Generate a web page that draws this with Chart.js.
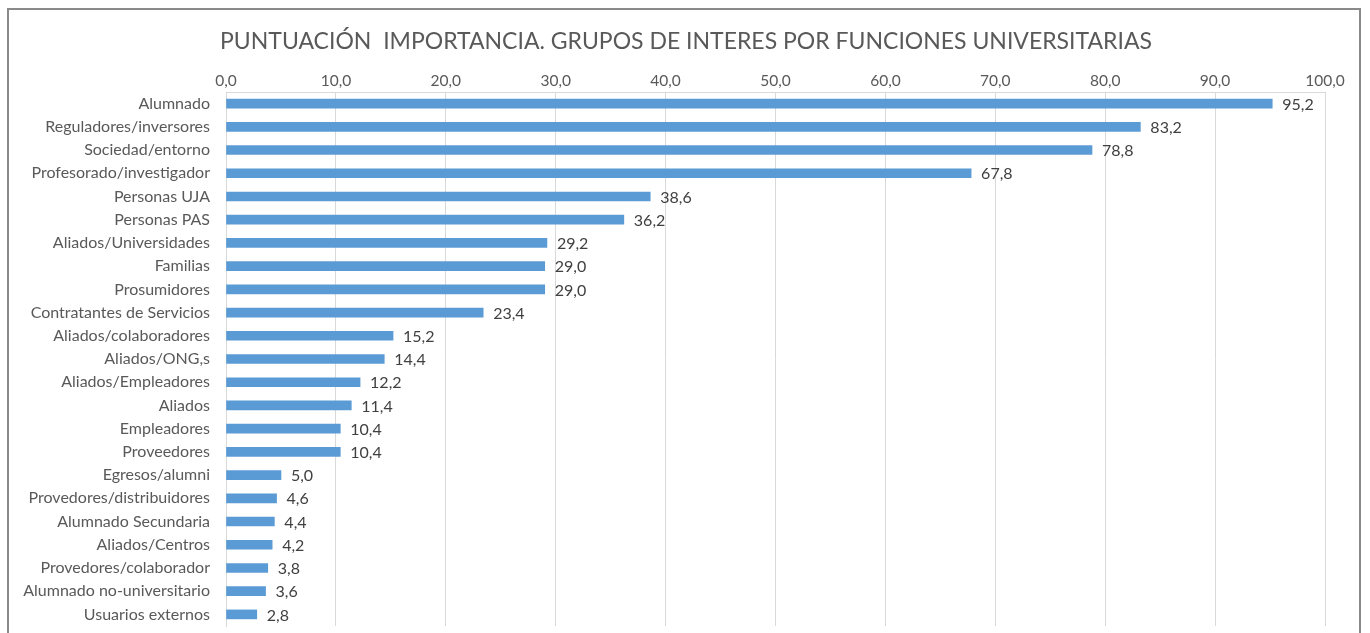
<!DOCTYPE html>
<html>
<head>
<meta charset="utf-8">
<script src="https://cdn.jsdelivr.net/npm/chart.js@4"></script>
<style>
  body { margin: 0; background: #fff; overflow: hidden; }
  #frame { position: absolute; left: 7px; top: 8px; width: 1354px; height: 640px; border: 2px solid #8a8a8a; box-sizing: border-box; }
  #chart { position: absolute; left: 0; top: 0; }
</style>
</head>
<body>
<div id="frame"></div>
<canvas id="chart" width="1370" height="633"></canvas>
<script>
// ---- Data ----
const groups = [
  'Alumnado', 'Reguladores/inversores', 'Sociedad/entorno', 'Profesorado/investigador',
  'Personas UJA', 'Personas PAS', 'Aliados/Universidades', 'Familias', 'Prosumidores',
  'Contratantes de Servicios', 'Aliados/colaboradores', 'Aliados/ONG,s', 'Aliados/Empleadores',
  'Aliados', 'Empleadores', 'Proveedores', 'Egresos/alumni', 'Provedores/distribuidores',
  'Alumnado Secundaria', 'Aliados/Centros', 'Provedores/colaborador',
  'Alumnado no-universitario', 'Usuarios externos'
];
const scores = [95.2, 83.2, 78.8, 67.8, 38.6, 36.2, 29.2, 29.0, 29.0, 23.4, 15.2, 14.4, 12.2,
  11.4, 10.4, 10.4, 5.0, 4.6, 4.4, 4.2, 3.8, 3.6, 2.8];
const chartTitle = 'PUNTUACIÓN  IMPORTANCIA. GRUPOS DE INTERES POR FUNCIONES UNIVERSITARIAS';

const fmt = v => v.toFixed(1).replace('.', ',');
const fontFam = 'Lato, "Open Sans", sans-serif';

// title centred on the whole frame, value labels right of each bar
const extras = {
  id: 'extras',
  afterDatasetsDraw(chart) {
    const ctx = chart.ctx;
    const meta = chart.getDatasetMeta(0);
    ctx.save();
    ctx.font = '23px ' + fontFam;
    ctx.fillStyle = '#595959';
    ctx.textAlign = 'center';
    ctx.textBaseline = 'middle';
    ctx.fillText(chartTitle, 686, 42);

    ctx.font = '16px ' + fontFam;
    ctx.fillStyle = '#404040';
    ctx.textAlign = 'left';
    meta.data.forEach((bar, i) => {
      ctx.fillText(fmt(scores[i]), bar.x + 10, bar.y + 1);
    });
    ctx.restore();
  }
};

new Chart(document.getElementById('chart'), {
  type: 'bar',
  data: {
    labels: groups,
    datasets: [{
      data: scores,
      backgroundColor: '#5B9BD5',
      barThickness: 9
    }]
  },
  options: {
    indexAxis: 'y',
    responsive: false,
    animation: false,
    layout: { padding: { left: 0, right: 45, top: 60, bottom: 7 } },
    plugins: {
      legend: { display: false },
      tooltip: { enabled: false },
      title: { display: false }
    },
    scales: {
      x: {
        position: 'top',
        min: 0,
        max: 100,
        ticks: {
          stepSize: 10,
          color: '#595959',
          font: { family: fontFam, size: 15.5 },
          padding: 2,
          callback: v => fmt(v)
        },
        grid: { color: '#d9d9d9', drawTicks: false },
        border: { color: '#d9d9d9' },
        afterFit(scale) { scale.height = 32; }
      },
      y: {
        ticks: {
          color: '#595959',
          font: { family: fontFam, size: 16 },
          padding: 16,
          autoSkip: false
        },
        grid: { display: false, drawTicks: false },
        border: { color: '#d9d9d9' },
        afterFit(scale) {
          scale.width = 226;
          scale.paddingTop = 0;
          scale.paddingBottom = 0;
        }
      }
    }
  },
  plugins: [extras]
});
</script>
</body>
</html>
